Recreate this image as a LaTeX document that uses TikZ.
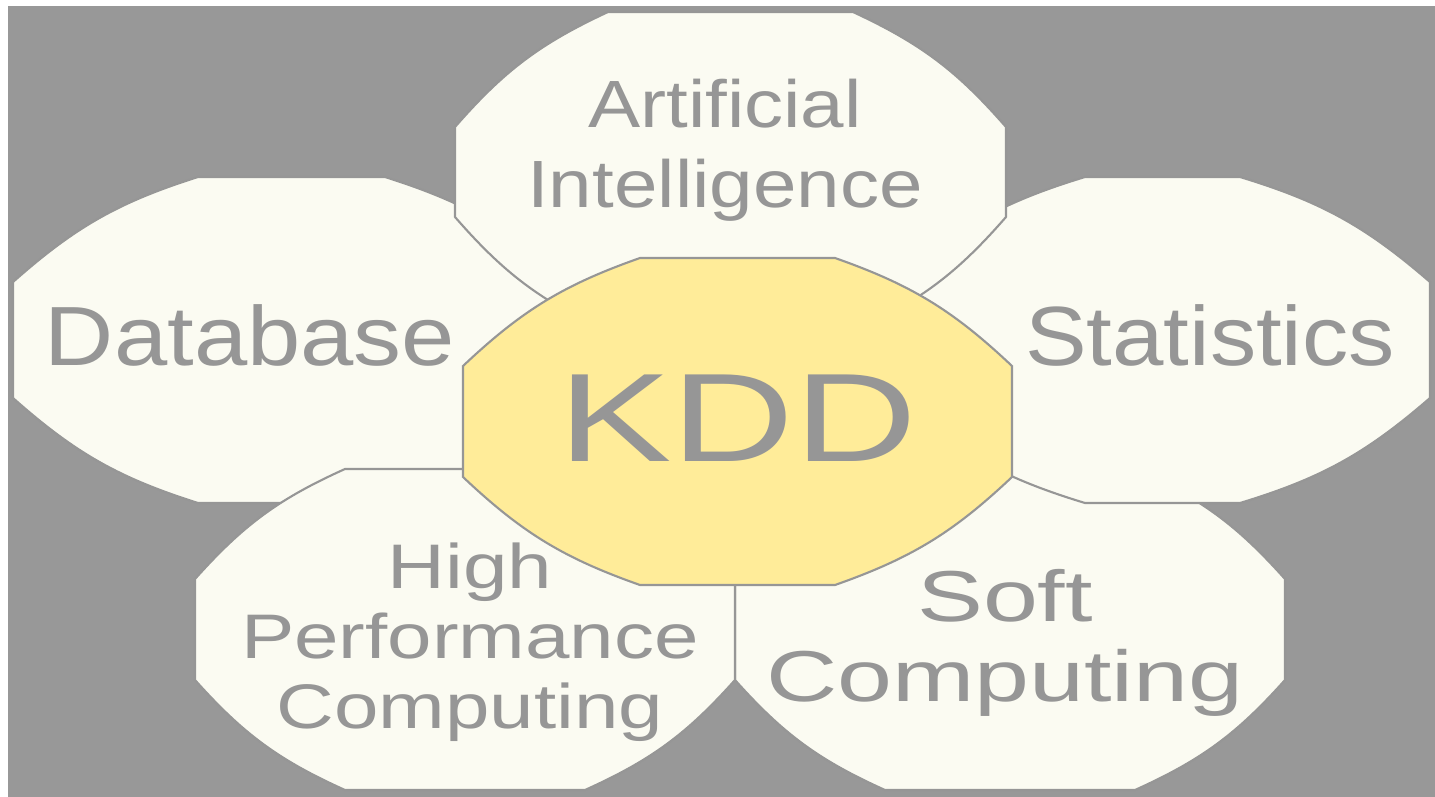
\documentclass[tikz,border=0pt]{standalone}
\usepackage{fontspec}
\setmainfont{Liberation Sans}

\definecolor{bggray}{RGB}{152,152,152}
\definecolor{petalfill}{RGB}{251,251,242}
\definecolor{kddfill}{RGB}{255,236,153}
\definecolor{inkgray}{RGB}{150,150,150}

\tikzset{
  petal/.style={draw=inkgray, line width=0.6pt, fill=petalfill},
  core/.style={petal, fill=kddfill},
  txt/.style={text=inkgray, inner sep=0pt, align=center},
  dbtxt/.style={txt, font=\fontsize{23.9}{26}\selectfont\addfontfeatures{FakeStretch=1.14}},
  stattxt/.style={txt, font=\fontsize{23.9}{26}\selectfont\addfontfeatures{FakeStretch=1.1}},
  aitxt/.style={txt, font=\fontsize{19}{22.8}\selectfont\addfontfeatures{FakeStretch=1.17}},
  hpctxt/.style={txt, font=\fontsize{17.9}{19.9}\selectfont\addfontfeatures{FakeStretch=1.27}},
  softtxt/.style={txt, font=\fontsize{20.5}{22.8}\selectfont\addfontfeatures{FakeStretch=1.37}},
  kddtxt/.style={txt, font=\fontsize{35.8}{38}\selectfont\addfontfeatures{FakeStretch=1.35}},
}

% octagon with bulging corners: style, x1, y1, x2, y2, dx, dy
\newcommand{\petalpath}[7]{%
  \draw[#1] (#2+#6,#3) -- (#4-#6,#3)
    to[bend left=12] (#4,#3+#7) -- (#4,#5-#7)
    to[bend left=12] (#4-#6,#5) -- (#2+#6,#5)
    to[bend left=12] (#2,#5-#7) -- (#2,#3+#7)
    to[bend left=12] (#2+#6,#3) -- cycle;}

\begin{document}
\begin{tikzpicture}[x=0.01cm, y=-0.01cm]
  \useasboundingbox (0,0) rectangle (1435,797);
  \fill[white] (0,0) rectangle (1435,797);
  \fill[bggray] (8,6) rectangle (1435,797);

  % petals, back to front
  \petalpath{petal}{735}{469}{1285}{790}{150}{110}
  \petalpath{petal}{13}{177}{570}{503}{185}{105}
  \petalpath{petal}{895}{177}{1430}{503}{190}{105}
  \petalpath{petal}{195}{469}{735}{790}{150}{110}
  \petalpath{petal}{455}{12}{1006}{332}{153}{115}
  \petalpath{core}{463}{258}{1012}{585}{177}{108}

  \node[aitxt] (ai) at (725,150) {Artificial\\Intelligence};
  \node[dbtxt] (db) at (250,335) {Database};
  \node[stattxt] (stat) at (1210,335) {Statistics};
  \node[kddtxt] (kdd) at (738,418) {KDD};
  \node[hpctxt] (hpc) at (470,642) {High\\Performance\\Computing};
  \node[softtxt] (soft) at (1005,643) {Soft\\Computing};
\end{tikzpicture}
\end{document}
